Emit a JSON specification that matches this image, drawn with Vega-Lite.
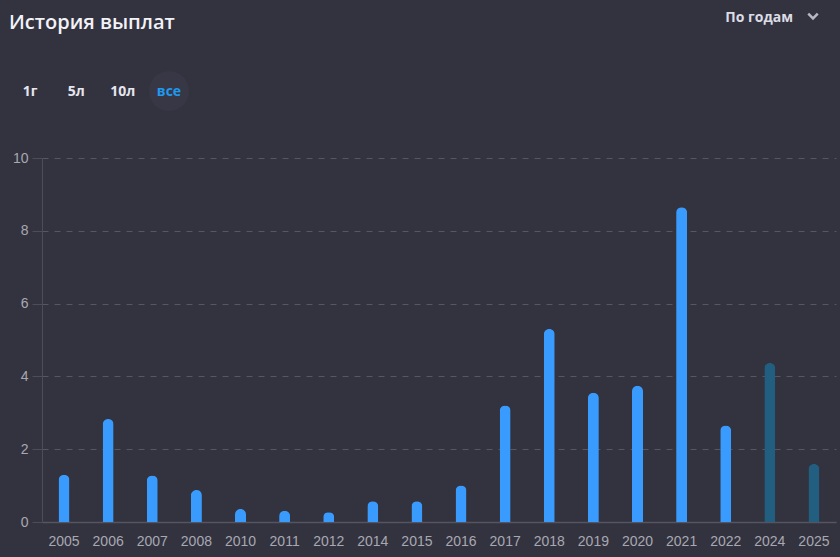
{
  "$schema": "https://vega.github.io/schema/vega-lite/v6.json",
  "width": 794,
  "height": 364,
  "autosize": {"type": "none"},
  "padding": {"left": 42, "top": 158, "right": 4, "bottom": 35},
  "background": "#33333f",
  "config": {"view": {"stroke": null}, "font": "Liberation Sans"},
  "title": {
    "text": "История выплат",
    "anchor": "start",
    "frame": "group",
    "orient": "top",
    "dx": -33,
    "offset": 0,
    "dy": 40,
    "baseline": "alphabetic",
    "font": "Open Sans",
    "fontSize": 20,
    "fontWeight": 600,
    "color": "#f2f2f7"
  },
  "datasets": {
    "payouts": [
      {"year": "2005", "value": 1.3, "kind": "paid"},
      {"year": "2006", "value": 2.83, "kind": "paid"},
      {"year": "2007", "value": 1.28, "kind": "paid"},
      {"year": "2008", "value": 0.88, "kind": "paid"},
      {"year": "2010", "value": 0.36, "kind": "paid"},
      {"year": "2011", "value": 0.31, "kind": "paid"},
      {"year": "2012", "value": 0.27, "kind": "paid"},
      {"year": "2014", "value": 0.57, "kind": "paid"},
      {"year": "2015", "value": 0.57, "kind": "paid"},
      {"year": "2016", "value": 1.0, "kind": "paid"},
      {"year": "2017", "value": 3.2, "kind": "paid"},
      {"year": "2018", "value": 5.3, "kind": "paid"},
      {"year": "2019", "value": 3.55, "kind": "paid"},
      {"year": "2020", "value": 3.74, "kind": "paid"},
      {"year": "2021", "value": 8.65, "kind": "paid"},
      {"year": "2022", "value": 2.65, "kind": "paid"},
      {"year": "2024", "value": 4.37, "kind": "forecast"},
      {"year": "2025", "value": 1.59, "kind": "forecast"}
    ],
    "buttons": [
      {"label": "1г", "state": "off"},
      {"label": "5л", "state": "off"},
      {"label": "10л", "state": "off"},
      {"label": "все", "state": "on"}
    ]
  },
  "layer": [
    {
      "data": {"name": "payouts"},
      "mark": {"type": "bar", "size": 11, "cornerRadiusTopLeft": 5.5, "cornerRadiusTopRight": 5.5},
      "encoding": {
        "x": {
          "field": "year", "type": "ordinal", "sort": null,
          "scale": {"paddingInner": 0, "paddingOuter": 0},
          "axis": {
            "title": null, "labelAngle": 0, "ticks": false, "labelPadding": 12,
            "labelFontSize": 14, "labelColor": "#a8a8b2", "domainColor": "#555562",
            "domainWidth": 1.5, "grid": false
          }
        },
        "y": {
          "field": "value", "type": "quantitative",
          "scale": {"domain": [0, 10]},
          "axis": {
            "title": null, "values": [0, 2, 4, 6, 8, 10], "tickSize": 10, "tickColor": "#4d4d5a",
            "labelPadding": 4, "labelFontSize": 14, "labelColor": "#a8a8b2",
            "domainColor": "#4d4d5a", "gridColor": "#565664", "gridDash": [6, 6],
            "gridWidth": 1
          }
        },
        "color": {
          "field": "kind", "type": "nominal",
          "scale": {"domain": ["paid", "forecast"], "range": ["#3a9bff", "#215e80"]},
          "legend": null
        }
      }
    },
    {
      "data": {"name": "buttons"},
      "transform": [{"filter": "datum.state == 'on'"}],
      "mark": {"type": "point", "filled": true, "size": 1600, "color": "#373745", "opacity": 1},
      "encoding": {"x": {"value": 127}, "y": {"value": -67}}
    },
    {
      "data": {"name": "buttons"},
      "mark": {"type": "text", "fontSize": 14, "fontWeight": "bold", "font": "Open Sans", "baseline": "alphabetic", "align": "center"},
      "encoding": {
        "text": {"field": "label"},
        "x": {"field": "label", "type": "ordinal", "sort": null, "scale": {"type": "point", "range": [-12, 127], "padding": 0}, "axis": null},
        "y": {"value": -62},
        "color": {"field": "state", "type": "nominal", "scale": {"domain": ["off", "on"], "range": ["#e6e6ef", "#1e9af0"]}, "legend": null}
      }
    },
    {
      "data": {"values": [{"t": "По годам"}]},
      "mark": {"type": "text", "fontSize": 14, "fontWeight": "bold", "font": "Open Sans", "baseline": "alphabetic", "align": "right", "color": "#dcdce6"},
      "encoding": {"text": {"field": "t"}, "x": {"value": 751}, "y": {"value": -136}}
    },
    {
      "data": {"values": [{"t": "v"}]},
      "mark": {"type": "point", "shape": "M-1,-0.5L0,0.5L1,-0.5", "filled": false, "size": 90, "strokeWidth": 2.5, "color": "#b8b8c4", "opacity": 1},
      "encoding": {"x": {"value": 771}, "y": {"value": -142}}
    }
  ],
  "resolve": {"scale": {"x": "independent", "color": "independent"}}
}
